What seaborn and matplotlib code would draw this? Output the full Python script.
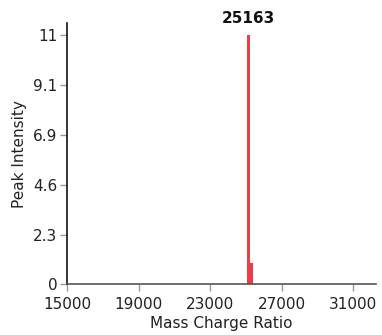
import matplotlib
matplotlib.use("Agg")
import matplotlib.pyplot as plt
import seaborn as sns
import numpy as np

# data
mass_charge = [25163, 25300]
intensity = [11.43, 0.96]
peak_label = "25163"
x_ticks = [15000, 19000, 23000, 27000, 31000]
y_tick_values = [0, 2.286, 4.572, 6.858, 9.144, 11.43]
y_tick_labels = ["0", "2.3", "4.6", "6.9", "9.1", "11"]

sns.set_theme(style="white")
plt.rcParams['font.family'] = ['DejaVu Sans']

fig = plt.figure(figsize=(3.82, 3.35), dpi=100)
ax = fig.add_axes([0.1754, 0.1513, 0.9835 - 0.1754, 0.9313 - 0.1513])

ax.bar(mass_charge, intensity, width=170, color="#ee3b46", linewidth=0)

ax.set_xlim(15000, 32250)
ax.set_ylim(0, 12.0)
ax.set_xticks(x_ticks)
ax.set_xticklabels([str(t) for t in x_ticks])
ax.set_yticks(y_tick_values)
ax.set_yticklabels(y_tick_labels)

ax.tick_params(axis="both", which="major", labelsize=11, length=5, width=1,
               color="#999999", labelcolor="#222222", left=True, bottom=True)
ax.tick_params(axis="x", pad=4)
ax.tick_params(axis="y", pad=2)
for s in ["top", "right"]:
    ax.spines[s].set_visible(False)
ax.spines["left"].set_color("#111111")
ax.spines["bottom"].set_color("#555555")
ax.spines["left"].set_linewidth(1.2)
ax.spines["bottom"].set_linewidth(1.2)

ax.set_xlabel("Mass Charge Ratio", fontsize=11, color="#222222", labelpad=3)
ax.set_ylabel("Peak Intensity", fontsize=11, color="#222222", labelpad=4)

ax.annotate(peak_label, xy=(mass_charge[0], intensity[0]), xytext=(0, 6.5),
            textcoords="offset points", ha="center", va="bottom",
            fontsize=11, fontweight="bold", color="#111111", annotation_clip=False)

fig.savefig("out.png", dpi=100)
